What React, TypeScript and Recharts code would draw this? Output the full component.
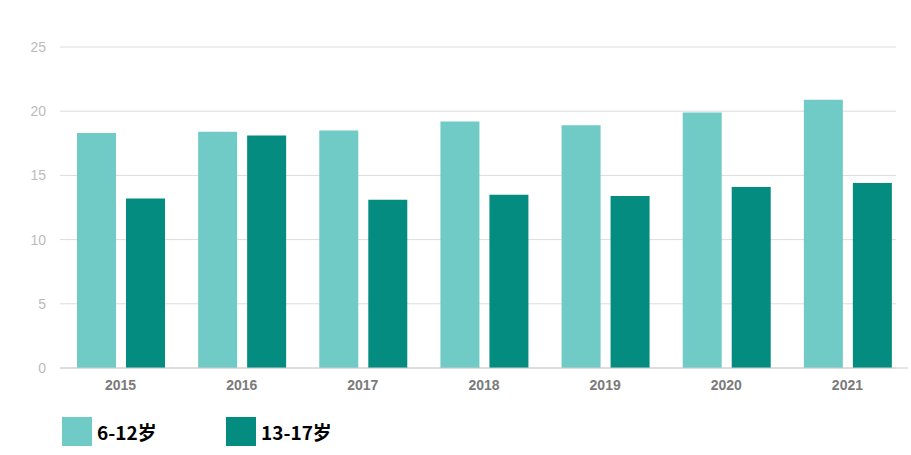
import { BarChart, Bar, XAxis, YAxis, CartesianGrid } from "recharts";

const years = ["2015", "2016", "2017", "2018", "2019", "2020", "2021"];
const age6to12 = [18.3, 18.4, 18.5, 19.2, 18.9, 19.9, 20.9];
const age13to17 = [13.2, 18.1, 13.1, 13.5, 13.4, 14.1, 14.4];
const yTicks = [0, 5, 10, 15, 20, 25];

const series = [
  { key: "a", name: "6-12岁", color: "#70CAC5" },
  { key: "b", name: "13-17岁", color: "#038C7F" },
];

const data = years.map((year, i) => ({ year, a: age6to12[i], b: age13to17[i] }));

export default function App() {
  return (
    <div style={{ position: "absolute", left: 0, top: 0, width: 911, height: 455, background: "#fff" }}>
      <BarChart
        width={911}
        height={455}
        data={data}
        margin={{ top: 47, right: 3, bottom: 57, left: 0 }}
        barGap={10}
        barSize={39}
      >
        <CartesianGrid vertical={false} stroke="#dcdcdc" width={836} />
        <XAxis
          dataKey="year"
          axisLine={{ stroke: "#cccccc" }}
          tickLine={false}
          tick={{ fill: "#7a7a7a", fontSize: 14, fontWeight: "bold", fontFamily: "Liberation Sans, Arial, sans-serif" }}
          tickMargin={6}
        />
        <YAxis
          width={60}
          domain={[0, 25]}
          ticks={yTicks}
          axisLine={false}
          tickLine={false}
          tickMargin={8}
          tick={{ fill: "#bbb", fontSize: 14, fontFamily: "Liberation Sans, Arial, sans-serif" }}
        />
        {series.map((s) => (
          <Bar key={s.key} dataKey={s.key} name={s.name} fill={s.color} isAnimationActive={false} />
        ))}
      </BarChart>
      {series.map((s, i) => (
        <div
          key={s.key}
          style={{
            position: "absolute",
            left: i === 0 ? 62 : 226,
            top: 417,
            display: "flex",
            alignItems: "center",
          }}
        >
          <div style={{ width: 30, height: 29, background: s.color }} />
          <span
            style={{
              marginLeft: 5,
              fontSize: 19,
              fontWeight: "bold",
              color: "#000",
              fontFamily: "'Noto Sans CJK SC', sans-serif",
              lineHeight: "29px",
            }}
          >
            {s.name}
          </span>
        </div>
      ))}
    </div>
  );
}
